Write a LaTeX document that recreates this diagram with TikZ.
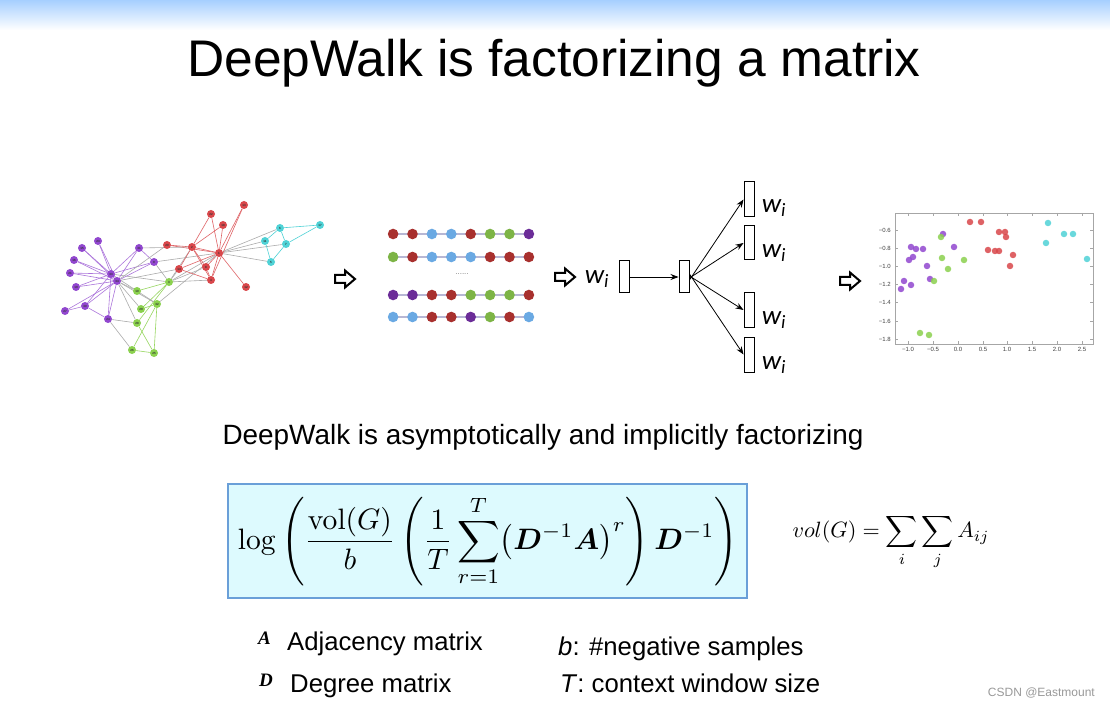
\documentclass[tikz,border=0pt]{standalone}
\usepackage{amsmath,bm}
\usepackage[no-math]{fontspec}
\setmainfont{Liberation Sans}
\newfontfamily\calibri{Carlito}
\newfontfamily\tnr{Liberation Serif}
\usetikzlibrary{arrows.meta,backgrounds}
\definecolor{topblue}{HTML}{A6CFFF}
\definecolor{gred}{HTML}{D9474B}
\definecolor{gpur}{HTML}{9147CF}
\definecolor{ggrn}{HTML}{8BD14E}
\definecolor{gcyn}{HTML}{4FD2D6}
\definecolor{wred}{HTML}{A8302E}
\definecolor{wblu}{HTML}{6AA9E3}
\definecolor{wgrn}{HTML}{7DB446}
\definecolor{wpur}{HTML}{6B2C98}
\definecolor{boxfill}{HTML}{DDFAFE}
\definecolor{boxline}{HTML}{6A9FD8}
\colorlet{ered}{gred!85}
\colorlet{epur}{gpur!75}
\colorlet{egrn}{ggrn!90}
\colorlet{ecyn}{gcyn}
\colorlet{ex}{gray!65}
\tikzset{
  gnode/.style={circle,inner sep=0pt,minimum size=8pt,font=\fontsize{3}{3}\selectfont\bfseries,text=black!80},
  gedge/.style={line width=0.6pt},
  wdot/.style={circle,inner sep=0pt,minimum size=10.6pt},
  wline/.style={draw=blue!25!gray!45,line width=1.2pt},
  vbox/.style={draw,line width=1pt,fill=white,minimum width=10pt,inner sep=0pt},
  wlab/.style={font=\calibri\fontsize{27}{30}\selectfont\itshape,inner sep=0pt},
  tip/.style={-{Stealth[length=8pt,width=6pt]},line width=0.8pt},
  sdot/.style={circle,inner sep=0pt,minimum size=6.5pt,opacity=0.85},
  tickl/.style={font=\fontsize{6}{6}\selectfont,text=black!75,inner sep=0pt},
  harrow/.style={draw=black,line width=2pt,fill=white,line join=miter},
  leg/.style={font=\fontsize{25.7}{28}\selectfont,inner sep=0pt,anchor=base west}
}
\newcommand{\hollowarrow}[2]{\draw[harrow] (#1-10,#2-4) -- (#1,#2-4) -- (#1,#2-8.5) -- (#1+10,#2) -- (#1,#2+8.5) -- (#1,#2+4) -- (#1-10,#2+4) -- cycle;}
\begin{document}
\begin{tikzpicture}[x=1pt,y=-1pt]
\useasboundingbox (0,0) rectangle (1110,708);
\begin{scope}[on background layer]
\fill[white] (0,0) rectangle (1110,708);
\shade[top color=topblue,bottom color=white] (0,0) rectangle (1110,30);
\end{scope}

% title
\node[font=\fontsize{51.5}{60}\selectfont,anchor=base,inner sep=0pt] (title) at (554,77) {DeepWalk is factorizing a matrix};

% ---- karate graph ----
\foreach \n/\x/\y/\c in {1/219/253/gred,2/192/247/gred,4/211/280/gred,8/206/267/gred,12/246/287/gred,13/244/205/gred,14/179/269/gred,18/223/225/gred,20/167/245/gred,22/211/214/gred,
5/271/262/gcyn,6/280/228/gcyn,7/286/244/gcyn,11/265/241/gcyn,17/320/225/gcyn,
9/154/262/gpur,15/82/248/gpur,16/74/260/gpur,19/76/287/gpur,21/70/273/gpur,23/98/241/gpur,24/108/319/gpur,27/65/311/gpur,30/85/306/gpur,31/139/248/gpur,33/111/274/gpur,34/117/281/gpur,
3/169/282/ggrn,10/137/291/ggrn,25/154/353/ggrn,26/132/350/ggrn,28/137/323/ggrn,29/141/309/ggrn,32/157/304/ggrn}
  {\node[gnode,fill=\c] (g\n) at (\x,\y) {\n};}
\begin{scope}[on background layer]
\foreach \a/\b/\c in {1/2/ered,1/3/ex,1/4/ered,1/5/ex,1/6/ex,1/7/ex,1/8/ered,1/9/ex,1/11/ex,1/12/ered,1/13/ered,1/14/ered,1/18/ered,1/20/ered,1/22/ered,1/32/ex,
2/3/ex,2/4/ered,2/8/ered,2/14/ered,2/18/ered,2/20/ered,2/22/ered,2/31/ex,
3/4/ex,3/8/ex,3/9/ex,3/10/egrn,3/14/ex,3/28/egrn,3/29/egrn,3/33/ex,
4/8/ered,4/13/ered,4/14/ered,5/7/ecyn,5/11/ecyn,6/7/ecyn,6/11/ecyn,6/17/ecyn,7/17/ecyn,
9/31/epur,9/33/epur,9/34/epur,10/34/ex,14/34/ex,15/33/epur,15/34/epur,16/33/epur,16/34/epur,19/33/epur,19/34/epur,20/34/ex,21/33/epur,21/34/epur,23/33/epur,23/34/epur,
24/26/ex,24/28/ex,24/30/epur,24/33/epur,24/34/epur,25/26/egrn,25/28/egrn,25/32/egrn,26/32/egrn,27/30/epur,27/34/epur,28/34/ex,29/32/egrn,29/34/ex,30/33/epur,30/34/epur,31/33/epur,31/34/epur,32/33/ex,32/34/ex,33/34/epur}
  {\draw[gedge,draw=\c] (g\a) -- (g\b);}
\end{scope}

% ---- arrows ----
\hollowarrow{345}{279}
\hollowarrow{565}{277}
\hollowarrow{850}{281}

% ---- random walks ----
\foreach \r/\y/\cl in {1/234/{wred,wred,wblu,wblu,wred,wgrn,wgrn,wpur},2/257/{wgrn,wred,wblu,wblu,wblu,wred,wred,wred},3/295/{wpur,wpur,wred,wred,wgrn,wgrn,wgrn,wred},4/317/{wblu,wblu,wred,wred,wpur,wgrn,wred,wblu}}{
  \foreach \c [count=\i] in \cl {\node[wdot,fill=\c] (w\r-\i) at ({373.7+19.4*\i},\y) {};}
  \begin{scope}[on background layer]\draw[wline] (w\r-1.center) -- (w\r-8.center);\end{scope}
}
\node[font=\fontsize{8}{8}\selectfont,text=gray,inner sep=0pt] (ell) at (462,274) {......};

% ---- skip-gram net ----
\node[wlab] (win) at (597,279) {w\textsubscript{i}};
\node[vbox,minimum height=32pt] (in) at (624,277) {};
\node[vbox,minimum height=32pt] (hid) at (684,277) {};
\node[vbox,minimum height=35pt] (o1) at (749,199.5) {};
\node[vbox,minimum height=34pt] (o2) at (749,243) {};
\node[vbox,minimum height=34pt] (o3) at (749,310) {};
\node[vbox,minimum height=35pt] (o4) at (749,354.5) {};
\draw[tip] (in.east) -- (hid.west);
\draw[tip] ([yshift=-3pt]hid.east) -- (o1.west);
\draw[tip] ([yshift=-1pt]hid.east) -- (o2.west);
\draw[tip] ([yshift=1pt]hid.east) -- (o3.west);
\draw[tip] ([yshift=3pt]hid.east) -- (o4.west);
\node[wlab] (l1) at (774,208) {w\textsubscript{i}};
\node[wlab] (l2) at (774,253) {w\textsubscript{i}};
\node[wlab] (l3) at (774,320) {w\textsubscript{i}};
\node[wlab] (l4) at (774,365) {w\textsubscript{i}};

% ---- scatter plot ----
\draw[gray!70,line width=0.6pt] (895,213) rectangle (1093,344);
\foreach \px/\t in {908/−1.0,933/−0.5,958/0.0,983/0.5,1007/1.0,1032/1.5,1057/2.0,1082/2.5}{
  \draw[gray!70,line width=0.5pt] (\px,344) -- (\px,341) (\px,213) -- (\px,216);
  \node[tickl] at (\px,349) {\t};
}
\foreach \py/\t in {230/−0.6,248/−0.8,266/−1.0,284/−1.2,302/−1.4,321/−1.6,339/−1.8}{
  \draw[gray!70,line width=0.5pt] (895,\py) -- (898,\py) (1093,\py) -- (1090,\py);
  \node[tickl,anchor=east] at (891,\py) {\t};
}
\foreach \x/\y/\c [count=\k] in {970/222/gred,981/222/gred,999/232/gred,1005/232/gred,1006/237/gred,988/250/gred,995/251/gred,999/251/gred,1013/255/gred,1010/266/gred,
1048/223/gcyn,1064/234/gcyn,1073/234/gcyn,1046/243/gcyn,1087/259/gcyn,
943/234/gpur,911/247/gpur,916/249/gpur,923/249/gpur,954/247/gpur,913/257/gpur,909/260/gpur,927/266/gpur,930/279/gpur,904/281/gpur,911/285/gpur,901/289/gpur,
941/237/ggrn,942/258/ggrn,964/260/ggrn,948/269/ggrn,934/281/ggrn,920/333/ggrn,929/335/ggrn}
  {\node[sdot,fill=\c] (s\k) at (\x,\y) {};}

% subtitle
\node[font=\fontsize{27.9}{32}\selectfont,anchor=base,inner sep=0pt] (sub) at (543,444) {DeepWalk is asymptotically and implicitly factorizing};

% formula box
\draw[fill=boxfill,draw=boxline,line width=1.5pt] (228,484) rectangle (747,598);
\node[inner sep=0pt] (formula) at (488,541) {\resizebox{500pt}{!}{$\displaystyle \log\left(\frac{\mathrm{vol}(G)}{b}\left(\frac{1}{T}\sum_{r=1}^{T}\bigl(\bm{D}^{-1}\bm{A}\bigr)^{r}\right)\bm{D}^{-1}\right)$}};

\node[inner sep=0pt] (vol) at (891,542) {\resizebox{197pt}{!}{$\displaystyle vol(G)=\sum_i\sum_j A_{ij}$}};

% legend
\node[font=\tnr\fontsize{19}{20}\selectfont\bfseries\itshape,inner sep=0pt,anchor=base west] (sa) at (258,644) {A};
\node[font=\tnr\fontsize{19}{20}\selectfont\bfseries\itshape,inner sep=0pt,anchor=base west] (sd) at (259,686) {D};
\node[leg] (la) at (287,650) {Adjacency matrix};
\node[leg] (ld) at (290,692) {Degree matrix};
\node[leg] (lb) at (558,655) {\textit{b}: \#negative samples};
\node[leg] (lt) at (560,692) {\textit{T}: context window size};

\node[font=\fontsize{12}{12}\selectfont,text=gray!80,anchor=east,inner sep=0pt] (wm) at (1095,693) {CSDN @Eastmount};
\end{tikzpicture}
\end{document}
